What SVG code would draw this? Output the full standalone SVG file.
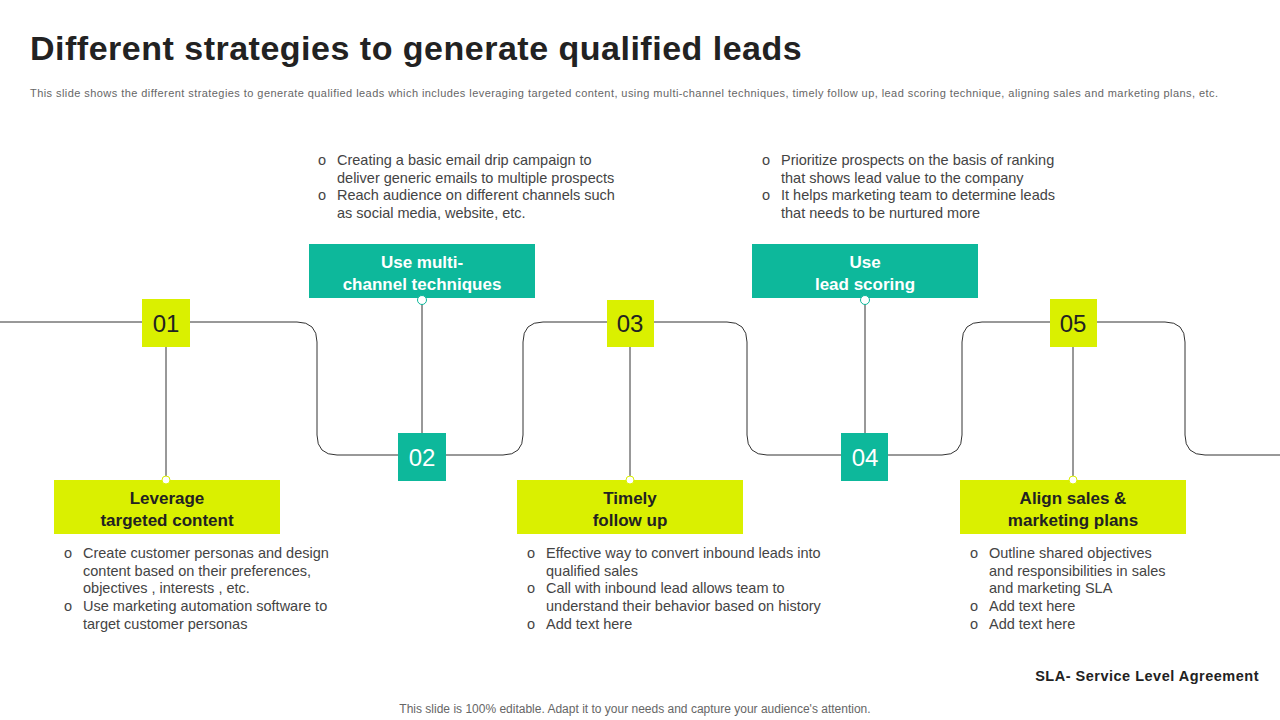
<svg xmlns="http://www.w3.org/2000/svg" width="1280" height="720" viewBox="0 0 1280 720">
<style>
.t{font-family:"Liberation Sans",Arial,sans-serif}
.num{font-family:"Liberation Sans",Arial,sans-serif;font-size:24px;fill:#222;text-anchor:middle}
.numw{font-family:"Liberation Sans",Arial,sans-serif;font-size:24px;fill:#fff;text-anchor:middle}
.lab{font-family:"Liberation Sans",Arial,sans-serif;font-size:17px;font-weight:bold;text-anchor:middle}
.b{font-family:"Liberation Sans",Arial,sans-serif;font-size:14.5px;fill:#444}
.lime{fill:#DAF000}
.teal{fill:#0DB89B}
.ln{fill:none;stroke:#333;stroke-width:1}
.dot{fill:#fff;stroke:#0DB89B;stroke-width:1}
.dotl{fill:#fff;stroke:#DAF000;stroke-width:1}
</style>
<rect width="1280" height="720" fill="#fff"/>
<text x="30" y="60" class="t" font-size="34" font-weight="bold" fill="#222" letter-spacing="0.5">Different strategies to generate qualified leads</text>
<text x="30" y="97" class="t" font-size="11" fill="#666" textLength="1188" lengthAdjust="spacing">This slide shows the different strategies to generate qualified leads which includes leveraging targeted content, using multi-channel techniques, timely follow up, lead scoring technique, aligning sales and marketing plans, etc.</text>
<g id="connectors">
<path class="ln" d="M0 322 H297 Q317 322 317 342 V435 Q317 455 337 455 H503 Q523 455 523 435 V342 Q523 322 543 322 H727 Q747 322 747 342 V435 Q747 455 767 455 H942 Q962 455 962 435 V342 Q962 322 982 322 H1165 Q1185 322 1185 342 V435 Q1185 455 1205 455 H1280"/>
<line class="ln" x1="166" y1="347" x2="166" y2="480"/>
<line class="ln" x1="422" y1="300" x2="422" y2="433"/>
<line class="ln" x1="630" y1="347" x2="630" y2="480"/>
<line class="ln" x1="865" y1="300" x2="865" y2="433"/>
<line class="ln" x1="1073" y1="347" x2="1073" y2="480"/>
</g>
<g id="n1">
<rect class="lime" x="142" y="299" width="48" height="48"/><text class="num" x="166" y="332">01</text>
<rect class="lime" x="54" y="480" width="226" height="54"/>
<circle class="dotl" cx="166" cy="480" r="4"/>
<text class="lab" fill="#222" x="167" y="504">Leverage</text><text class="lab" fill="#222" x="167" y="526">targeted content</text>
<g class="b"><text x="64" y="558">o</text><text x="83" y="558">Create customer personas and design</text><text x="83" y="576">content based on their preferences,</text><text x="83" y="593">objectives , interests , etc.</text><text x="64" y="611">o</text><text x="83" y="611">Use marketing automation software to</text><text x="83" y="629">target customer personas</text></g>
</g>
<g id="n2">
<rect class="teal" x="398" y="433" width="48" height="48"/><text class="numw" x="422" y="466">02</text>
<rect class="teal" x="309" y="244" width="226" height="54"/>
<circle class="dot" cx="422" cy="300" r="4.5"/>
<text class="lab" fill="#fff" x="422" y="268">Use multi-</text><text class="lab" fill="#fff" x="422" y="290">channel techniques</text>
<g class="b"><text x="318" y="165">o</text><text x="337" y="165">Creating a basic email drip campaign to</text><text x="337" y="183">deliver generic emails to multiple prospects</text><text x="318" y="200">o</text><text x="337" y="200">Reach audience on different channels such</text><text x="337" y="218">as social media, website, etc.</text></g>
</g>
<g id="n3">
<rect class="lime" x="607" y="300" width="47" height="47"/><text class="num" x="630" y="332">03</text>
<rect class="lime" x="517" y="480" width="226" height="54"/>
<circle class="dotl" cx="630" cy="480" r="4"/>
<text class="lab" fill="#222" x="630" y="504">Timely</text><text class="lab" fill="#222" x="630" y="526">follow up</text>
<g class="b"><text x="527" y="558">o</text><text x="546" y="558">Effective way to convert inbound leads into</text><text x="546" y="576">qualified sales</text><text x="527" y="593">o</text><text x="546" y="593">Call with inbound lead allows team to</text><text x="546" y="611">understand their behavior based on history</text><text x="527" y="629">o</text><text x="546" y="629">Add text here</text></g>
</g>
<g id="n4">
<rect class="teal" x="841" y="433" width="47" height="48"/><text class="numw" x="865" y="466">04</text>
<rect class="teal" x="752" y="244" width="226" height="54"/>
<circle class="dot" cx="865" cy="300" r="4.5"/>
<text class="lab" fill="#fff" x="865" y="268">Use</text><text class="lab" fill="#fff" x="865" y="290">lead scoring</text>
<g class="b"><text x="762" y="165">o</text><text x="781" y="165">Prioritize prospects on the basis of ranking</text><text x="781" y="183">that shows lead value to the company</text><text x="762" y="200">o</text><text x="781" y="200">It helps marketing team to determine leads</text><text x="781" y="218">that needs to be nurtured more</text></g>
</g>
<g id="n5">
<rect class="lime" x="1050" y="299" width="47" height="48"/><text class="num" x="1073" y="332">05</text>
<rect class="lime" x="960" y="480" width="226" height="54"/>
<circle class="dotl" cx="1073" cy="480" r="4"/>
<text class="lab" fill="#222" x="1073" y="504">Align sales &amp;</text><text class="lab" fill="#222" x="1073" y="526">marketing plans</text>
<g class="b"><text x="970" y="558">o</text><text x="989" y="558">Outline shared objectives</text><text x="989" y="576">and responsibilities in sales</text><text x="989" y="593">and marketing SLA</text><text x="970" y="611">o</text><text x="989" y="611">Add text here</text><text x="970" y="629">o</text><text x="989" y="629">Add text here</text></g>
</g>
<text x="1259" y="681" text-anchor="end" class="t" font-size="14.5" font-weight="bold" fill="#222" letter-spacing="0.5">SLA- Service Level Agreement</text>
<text x="635" y="713" text-anchor="middle" class="t" font-size="12" fill="#666">This slide is 100% editable. Adapt it to your needs and capture your audience's attention.</text>
</svg>
